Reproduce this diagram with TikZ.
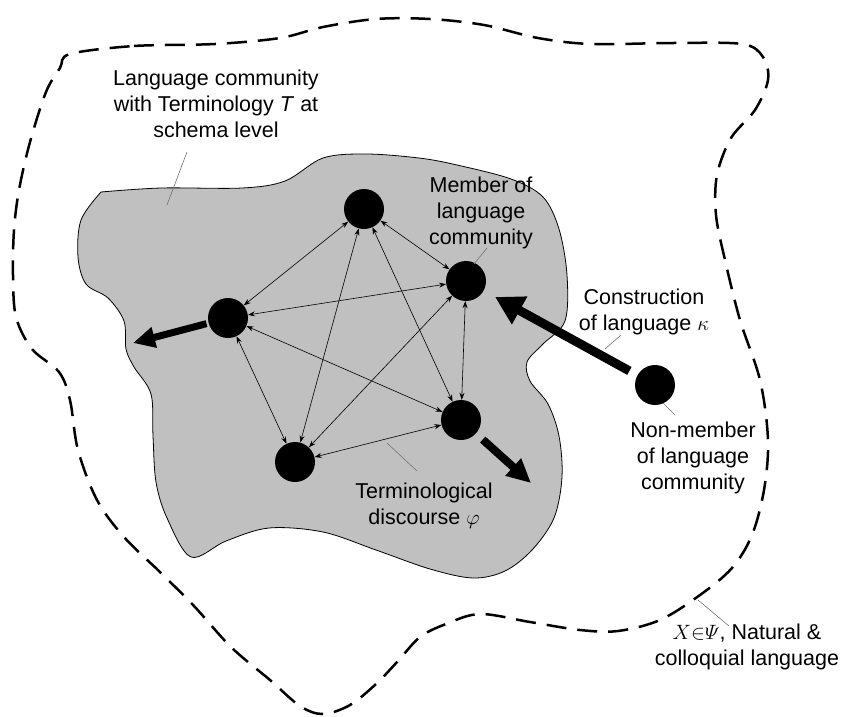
\documentclass[tikz,border=0pt]{standalone}
\usepackage{amsmath}
\usepackage{fontspec}
\setmainfont{Liberation Sans}
\usetikzlibrary{arrows.meta,calc}
\definecolor{blobgray}{RGB}{192,192,192}
\begin{document}
\begin{tikzpicture}[x=1pt,y=-1pt,
  member/.style={circle,fill=black,minimum size=40pt,inner sep=0pt},
  link/.style={{Stealth[length=7pt,width=5pt]}-{Stealth[length=7pt,width=5pt]}, line width=0.6pt},
  bigarrow/.style={-{Triangle[length=24pt,width=22pt]}, line width=8pt},
  txt/.style={align=center,font=\fontsize{21.5}{26}\selectfont,inner sep=0pt},
  leader/.style={draw=black!55,line width=0.6pt},
  outer/.style={line width=2.5pt,dash pattern=on 20pt off 11pt},
]
\useasboundingbox (0,0) rectangle (841,716);

% outer dashed boundary
\draw[outer] plot[smooth cycle, tension=0.55] coordinates {
 (70,54) (134,46) (215,44) (280,38) (323,27) (376,19) (430,19) (484,25) (538,38) (591,44)
 (672,43) (742,44) (763,57) (768,80) (755,110) (731,138) (717,175) (716,215) (725,260)
 (740,320) (760,380) (768,440) (764,490) (752,535) (732,568) (700,595) (660,620) (618,631)
 (580,630) (530,622) (480,614) (446,624) (420,637) (398,661) (376,684) (350,705) (323,714)
 (300,706) (270,680) (231,647) (194,606) (161,573) (124,537) (97,500) (78,450) (70,400)
 (59,372) (32,349) (16,317) (13,275) (14,230) (19,190) (30,142) (46,92) (60,68)};

% language community region
\draw[fill=blobgray, line width=0.8pt] plot[smooth, tension=0.55] coordinates {
 (101,192) (161,188) (242,188) (285,181) (323,158) (366,154) (419,158) (457,165) (511,179)
 (543,197) (559,229) (567,275) (565,321) (543,344) (527,362) (530,381) (548,404) (559,436)
 (562,477) (554,518) (532,550) (505,571) (473,578) (430,569) (376,550) (323,532) (269,528)
 (226,541) (191,557) (167,518) (156,482) (153,436) (151,394) (134,367) (126,349) (124,321)
 (108,298) (86,284) (78,257) (81,220) (101,192)} -- cycle;

% members
\node[member] (T)  at (364,209) {};
\node[member] (M)  at (466,281) {};
\node[member] (L)  at (228,318) {};
\node[member] (BR) at (461,420) {};
\node[member] (BL) at (295,462) {};
\node[member] (NM) at (655,385) {};

% discourse links
\draw[link] (T) -- (M);
\draw[link] (T) -- (L);
\draw[link] (T) -- (BL);
\draw[link] (T) -- (BR);
\draw[link] (M) -- (L);
\draw[link] (M) -- (BL);
\draw[link] (M) -- (BR);
\draw[link] (L) -- (BR);
\draw[link] (L) -- (BL);
\draw[link] (BR) -- (BL);

% thick arrows
\coordinate (tipL) at (133,343);
\coordinate (tipBR) at (531,483);
\draw[bigarrow, line width=7pt, -{Triangle[length=22pt,width=20pt]}, shorten <=2pt] (L) -- (tipL);
\draw[bigarrow, shorten <=9pt] (BR) -- (tipBR);
\draw[bigarrow, line width=9pt, -{Triangle[length=28pt,width=30pt]}, shorten <=9pt, shorten >=13pt] (NM) -- (M);

% texts
\node[txt] (tlang) at (216,104) {Language community\\with Terminology \textit{T} at\\schema level};
\node[txt] (tmem) at (481,213) {Member of\\language\\community};
\node[txt] (tcon) at (644,312) {Construction\\of language $\kappa$};
\node[txt] (tnon) at (693,458) {Non-member\\of language\\community};
\node[txt] (tterm) at (424,506) {Terminological\\discourse $\varphi$};
\node[txt] (tnat) at (747,647) {$X{\in}\varPsi$, Natural \&\\colloquial language};

% leader lines
\coordinate (a1) at (187,152); \coordinate (a2) at (167,205);
\coordinate (b1) at (487,248); \coordinate (b2) at (474,264);
\coordinate (c1) at (621,335); \coordinate (c2) at (605,349);
\coordinate (d1) at (663,403); \coordinate (d2) at (675,415);
\coordinate (e1) at (387,443); \coordinate (e2) at (417,471);
\coordinate (f1) at (698,600); \coordinate (f2) at (729,626);
\draw[leader] (a1) -- (a2);
\draw[leader] (b1) -- (b2);
\draw[leader] (c1) -- (c2);
\draw[leader] (d1) -- (d2);
\draw[leader] (e1) -- (e2);
\draw[leader] (f1) -- (f2);
\end{tikzpicture}
\end{document}
